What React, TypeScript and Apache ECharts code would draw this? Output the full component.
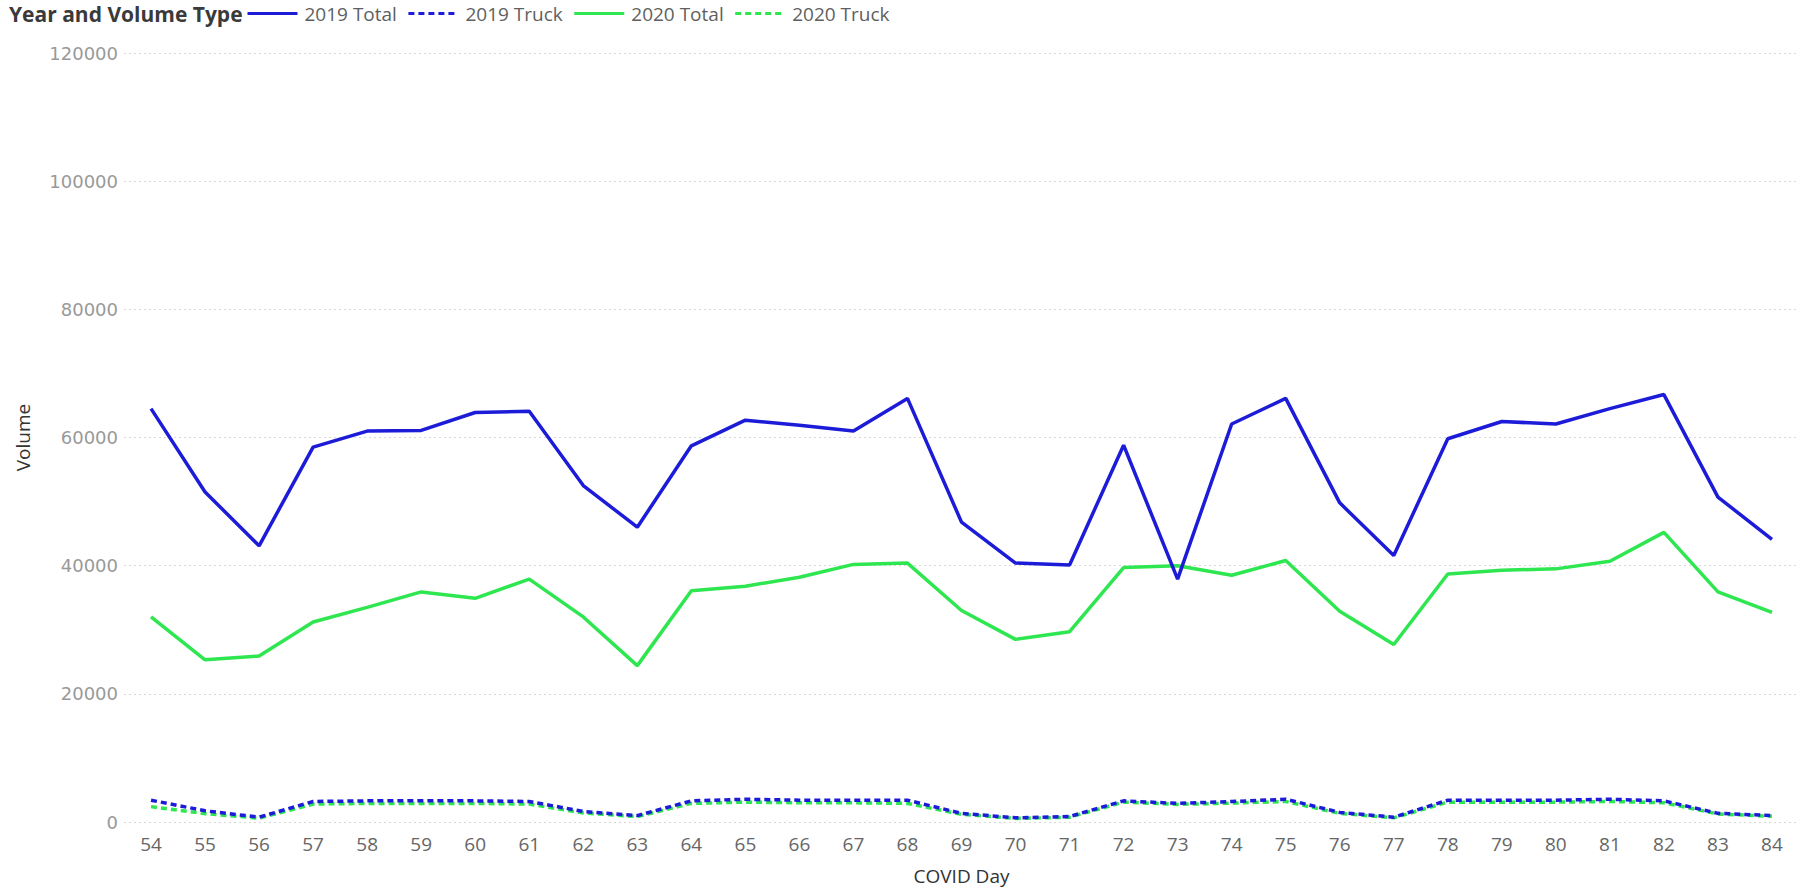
import React, { useEffect, useRef } from "react";
import * as echarts from "echarts";

const days = ["54","55","56","57","58","59","60","61","62","63","64","65","66","67","68","69","70","71","72","73","74","75","76","77","78","79","80","81","82","83","84"];

const total2019 = [64500, 51500, 43100, 58500, 61000, 61100, 63900, 64100, 52500, 46000, 58700, 62700, 61900, 61000, 66100, 46800, 40400, 40100, 58800, 37900, 62100, 66100, 49800, 41600, 59800, 62500, 62100, 64500, 66700, 50700, 44100];
const truck2019 = [3400, 1750, 750, 3200, 3300, 3300, 3300, 3200, 1650, 1000, 3300, 3550, 3400, 3400, 3400, 1350, 650, 850, 3300, 2900, 3200, 3550, 1500, 750, 3400, 3400, 3400, 3550, 3300, 1350, 1000];
const total2020 = [32000, 25300, 25900, 31200, 33500, 35900, 34900, 37900, 32000, 24400, 36100, 36800, 38200, 40200, 40400, 33000, 28500, 29700, 39700, 40000, 38500, 40800, 32900, 27700, 38700, 39300, 39500, 40700, 45200, 35900, 32700];
const truck2020 = [2400, 1300, 600, 2800, 2900, 2900, 2900, 2800, 1400, 850, 2900, 3100, 3000, 3000, 2900, 1200, 550, 750, 3100, 2750, 2950, 3200, 1350, 650, 3100, 3100, 3100, 3200, 3000, 1250, 900];
const yTicks = [0, 20000, 40000, 60000, 80000, 100000, 120000];

const BLUE = "#1c1cd8";
const GREEN = "#2ee650";
const FONT = "'Segoe UI', 'Open Sans', sans-serif";

export default function App() {
  const ref = useRef<HTMLDivElement>(null);
  useEffect(() => {
    if (!ref.current) return;
    const chart = echarts.init(ref.current, undefined, { renderer: "svg" });
    const lineSeries = (name: string, data: number[], color: string, dashed: boolean, z: number) => ({
      name,
      type: "line",
      data,
      symbol: "none",
      z,
      lineStyle: { color, width: 3.5, type: dashed ? [6, 4] : "solid" },
      itemStyle: { color },
    });
    chart.setOption({
      animation: false,
      backgroundColor: "#ffffff",
      textStyle: { fontFamily: FONT },
      graphic: [
        {
          type: "text",
          left: 9,
          top: 3,
          style: { text: "Year and Volume Type", font: `bold 21px ${FONT}`, fill: "#3a3a3a" },
        },
      ],
      legend: {
        left: 246,
        top: 4,
        padding: 0,
        itemWidth: 50,
        itemHeight: 20,
        itemGap: 10,
        itemStyle: { opacity: 0 },
        lineStyle: { width: 3 },
        data: ["2019 Total", "2019 Truck", "2020 Total", "2020 Truck"],
        textStyle: { color: "#5f5f5f", fontSize: 19, fontFamily: FONT, padding: [0, 0, 0, 2] },
      },
      grid: { left: 124, right: 4, top: 53, bottom: 64, containLabel: false },
      xAxis: {
        type: "category",
        data: days,
        boundaryGap: true,
        name: "COVID Day",
        nameLocation: "middle",
        nameGap: 44,
        nameTextStyle: { color: "#333333", fontSize: 19, fontFamily: FONT },
        axisLine: { show: false },
        axisTick: { show: false },
        axisLabel: { color: "#666666", fontSize: 19, fontFamily: FONT, margin: 12 },
      },
      yAxis: {
        type: "value",
        min: 0,
        max: 120000,
        interval: 20000,
        name: "Volume",
        nameLocation: "middle",
        nameGap: 92,
        nameTextStyle: { color: "#333333", fontSize: 19, fontFamily: FONT },
        axisLine: { show: false },
        axisTick: { show: false },
        axisLabel: {
          color: "#999999",
          fontSize: 18,
          fontFamily: "'DejaVu Sans', sans-serif",
          margin: 6,
          formatter: (v: number) => (yTicks.includes(v) ? String(v) : ""),
        },
        splitLine: { show: true, lineStyle: { color: "#d8d8d8", type: [2, 3], width: 1 } },
      },
      series: [
        lineSeries("2020 Total", total2020, GREEN, false, 2),
        lineSeries("2020 Truck", truck2020, GREEN, true, 3),
        lineSeries("2019 Total", total2019, BLUE, false, 4),
        lineSeries("2019 Truck", truck2019, BLUE, true, 5),
      ],
    });
    return () => chart.dispose();
  }, []);
  return (
    <div
      ref={ref}
      style={{ position: "fixed", left: 0, top: 0, width: 1803, height: 890, background: "#fff" }}
    />
  );
}
